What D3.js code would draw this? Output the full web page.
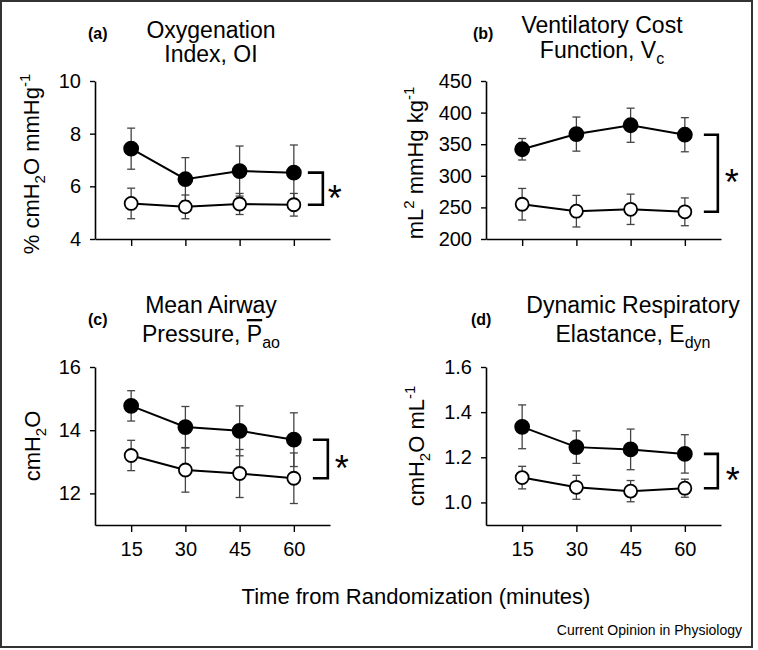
<!DOCTYPE html>
<html>
<head>
<meta charset="utf-8">
<script src="https://cdn.jsdelivr.net/npm/d3@7/dist/d3.min.js"></script>
<style>
  body { margin: 0; background: #fff; }
  svg text { font-family: "Liberation Sans", Arial, Helvetica, sans-serif; fill: #000; }
</style>
</head>
<body>
<div class="fig"></div>
<script>
// time points (minutes)
var times = [15, 30, 45, 60];

// (a) oxygenation index
var oiFilled = [7.43, 6.27, 6.58, 6.52];
var oiFilledErr = [0.78, 0.82, 0.95, 1.05];
var oiOpen = [5.35, 5.22, 5.33, 5.30];
var oiOpenErr = [0.58, 0.45, 0.40, 0.43];

// (b) ventilatory cost function
var vcFilled = [342, 366, 380, 365];
var vcFilledErr = [17, 27, 27, 27];
var vcOpen = [255, 244, 247, 243];
var vcOpenErr = [25, 25, 24, 22];

// (c) mean airway pressure
var pawFilled = [14.77, 14.10, 13.98, 13.70];
var pawFilledErr = [0.48, 0.65, 0.79, 0.85];
var pawOpen = [13.20, 12.74, 12.63, 12.48];
var pawOpenErr = [0.48, 0.70, 0.76, 0.80];

// (d) dynamic respiratory elastance
var edynFilled = [1.335, 1.245, 1.235, 1.215];
var edynFilledErr = [0.097, 0.072, 0.090, 0.085];
var edynOpen = [1.110, 1.067, 1.050, 1.063];
var edynOpenErr = [0.050, 0.053, 0.047, 0.040];

// y tick labels
var oiTicks = [4, 6, 8, 10];
var vcTicks = [200, 250, 300, 350, 400, 450];
var pawTicks = [12, 14, 16];
var edynTicks = [1.0, 1.2, 1.4, 1.6];

var W = 758, H = 650;
var pw = 235, ph = 158;

var svg = d3.select(".fig").append("svg")
    .attr("width", W)
    .attr("height", H);

// figure frame
svg.append("rect")
    .attr("x", 1).attr("y", 1)
    .attr("width", 751).attr("height", 646)
    .attr("fill", "none")
    .attr("stroke", "#333")
    .attr("stroke-width", 2);

var panels = [
  { tag: "(a)", tagX: 88, tagY: 39, left: 95, top: 81, domain: [4, 10], ticks: oiTicks, fmt: d3.format("d"),
    filled: oiFilled, filledErr: oiFilledErr, open: oiOpen, openErr: oiOpenErr, xLabels: false,
    title1: [{t: "Oxygenation"}], title2: [{t: "Index, OI"}], tcx: 211, t1y: 38, t2y: 62,
    ylab: [{t: "% cmH"}, {t: "2", sub: true}, {t: "O mmHg"}, {t: "-1", sup: true}], ylx: 39, yly: 164,
    br0: 14, br1: 29, ast: 41 },
  { tag: "(b)", tagX: 473, tagY: 39, left: 486, top: 81, domain: [200, 450], ticks: vcTicks, fmt: d3.format("d"),
    filled: vcFilled, filledErr: vcFilledErr, open: vcOpen, openErr: vcOpenErr, xLabels: false,
    title1: [{t: "Ventilatory Cost"}], title2: [{t: "Function, V"}, {t: "c", sub: true}], tcx: 602, t1y: 33, t2y: 58,
    ylab: [{t: "mL"}, {t: "2", sup: true}, {t: " mmHg kg"}, {t: "-1", sup: true}], ylx: 423, yly: 163,
    br0: 19, br1: 33, ast: 47 },
  { tag: "(c)", tagX: 88, tagY: 325, left: 95, top: 367, domain: [11, 16], ticks: pawTicks, fmt: d3.format("d"),
    filled: pawFilled, filledErr: pawFilledErr, open: pawOpen, openErr: pawOpenErr, xLabels: true,
    title1: [{t: "Mean Airway"}], title2: [{t: "Pressure, "}, {t: "P", over: true}, {t: "ao", sub: true}], tcx: 211, t1y: 313, t2y: 342,
    ylab: [{t: "cmH"}, {t: "2", sub: true}, {t: "O"}], ylx: 40, yly: 446,
    br0: 19, br1: 34, ast: 48 },
  { tag: "(d)", tagX: 471, tagY: 325, left: 486, top: 367, domain: [0.9, 1.6], ticks: edynTicks, fmt: d3.format(".1f"),
    filled: edynFilled, filledErr: edynFilledErr, open: edynOpen, openErr: edynOpenErr, xLabels: true,
    title1: [{t: "Dynamic Respiratory"}], title2: [{t: "Elastance, E"}, {t: "dyn", sub: true}], tcx: 633, t1y: 313, t2y: 342,
    ylab: [{t: "cmH"}, {t: "2", sub: true}, {t: "O mL"}, {t: "-1", sup: true}], ylx: 424, yly: 446,
    br0: 19, br1: 33, ast: 48 }
];

// writes text pieces with sub / superscripts as tspans
function rich(text, parts, size) {
  var shift = 0;
  parts.forEach(function(p) {
    var target = p.sub ? Math.round(size * 0.28) : p.sup ? -Math.round(size * 0.42) : 0;
    var ts = text.append("tspan")
        .attr("dy", target - shift)
        .attr("font-size", (p.sub || p.sup) ? Math.round(size * 0.68) : size)
        .text(p.t);
    if (p.over) ts.style("text-decoration", "overline");
    shift = target;
  });
}

panels.forEach(function(p) {
  var x = d3.scaleLinear().domain([5, 70]).range([p.left, p.left + pw]);
  var y = d3.scaleLinear().domain(p.domain).range([p.top + ph, p.top]);

  // x axis
  var xa = svg.append("g")
      .attr("transform", "translate(0," + (p.top + ph) + ")")
      .call(d3.axisBottom(x).tickValues(times).tickSize(7).tickSizeOuter(0).tickPadding(10)
        .tickFormat(p.xLabels ? d3.format("d") : function() { return ""; }))
      .attr("font-size", 20);

  // y axis
  var ya = svg.append("g")
      .attr("transform", "translate(" + p.left + ",0)")
      .call(d3.axisLeft(y).tickValues(p.ticks).tickSize(5).tickSizeOuter(0).tickPadding(9).tickFormat(p.fmt))
      .attr("font-size", 20);

  [xa, ya].forEach(function(a) {
    a.select(".domain").attr("stroke", "#000").attr("stroke-width", 1.6);
    a.selectAll(".tick line").attr("stroke", "#000").attr("stroke-width", 1.4);
  });

  var series = [
    { vals: p.open, err: p.openErr, fill: "#fff" },
    { vals: p.filled, err: p.filledErr, fill: "#000" }
  ];

  series.forEach(function(s) {
    var pts = times.map(function(t, i) { return { t: t, v: s.vals[i], e: s.err[i] }; });

    // error bars
    var eb = svg.append("g").attr("stroke", "#444").attr("stroke-width", 1.3);
    eb.selectAll(".stem").data(pts).enter().append("line")
        .attr("x1", function(d) { return x(d.t); })
        .attr("x2", function(d) { return x(d.t); })
        .attr("y1", function(d) { return y(d.v - d.e); })
        .attr("y2", function(d) { return y(d.v + d.e); });
    eb.selectAll(".capT").data(pts).enter().append("line")
        .attr("x1", function(d) { return x(d.t) - 4; })
        .attr("x2", function(d) { return x(d.t) + 4; })
        .attr("y1", function(d) { return y(d.v + d.e); })
        .attr("y2", function(d) { return y(d.v + d.e); });
    eb.selectAll(".capB").data(pts).enter().append("line")
        .attr("x1", function(d) { return x(d.t) - 4; })
        .attr("x2", function(d) { return x(d.t) + 4; })
        .attr("y1", function(d) { return y(d.v - d.e); })
        .attr("y2", function(d) { return y(d.v - d.e); });

    s.pts = pts;
  });

  series.forEach(function(s) {
    var line = d3.line()
        .x(function(d) { return x(d.t); })
        .y(function(d) { return y(d.v); });
    svg.append("path")
        .datum(s.pts)
        .attr("d", line)
        .attr("fill", "none")
        .attr("stroke", "#000")
        .attr("stroke-width", 2);
  });

  series.forEach(function(s) {
    svg.append("g").selectAll("circle").data(s.pts).enter().append("circle")
        .attr("cx", function(d) { return x(d.t); })
        .attr("cy", function(d) { return y(d.v); })
        .attr("r", s.fill === "#000" ? 7 : 6.5)
        .attr("fill", s.fill)
        .attr("stroke", "#000")
        .attr("stroke-width", 1.8);
  });

  // significance bracket
  var last = times.length - 1;
  var yTop = y(p.filled[last]), yBot = y(p.open[last]);
  var bx0 = x(times[last]) + p.br0, bx1 = x(times[last]) + p.br1;
  svg.append("path")
      .attr("d", "M" + bx0 + "," + yTop + "H" + bx1 + "V" + yBot + "H" + bx0)
      .attr("fill", "none")
      .attr("stroke", "#000")
      .attr("stroke-width", 2.6);
  svg.append("text")
      .attr("x", x(times[last]) + p.ast)
      .attr("y", (yTop + yBot) / 2 + 22)
      .attr("text-anchor", "middle")
      .attr("font-size", 36)
      .text("*");

  // panel tag and title
  svg.append("text")
      .attr("x", p.tagX).attr("y", p.tagY)
      .attr("font-size", 16).attr("font-weight", "bold")
      .text(p.tag);
  rich(svg.append("text").attr("x", p.tcx).attr("y", p.t1y).attr("text-anchor", "middle"), p.title1, 23);
  rich(svg.append("text").attr("x", p.tcx).attr("y", p.t2y).attr("text-anchor", "middle"), p.title2, 23);

  // y axis title
  rich(svg.append("text")
      .attr("transform", "translate(" + p.ylx + "," + p.yly + ") rotate(-90)")
      .attr("text-anchor", "middle"), p.ylab, 22);
});

svg.append("text")
    .attr("x", 416).attr("y", 604)
    .attr("text-anchor", "middle")
    .attr("font-size", 22)
    .text("Time from Randomization (minutes)");

svg.append("text")
    .attr("x", 742).attr("y", 635)
    .attr("text-anchor", "end")
    .attr("font-size", 14)
    .text("Current Opinion in Physiology");
</script>
</body>
</html>
